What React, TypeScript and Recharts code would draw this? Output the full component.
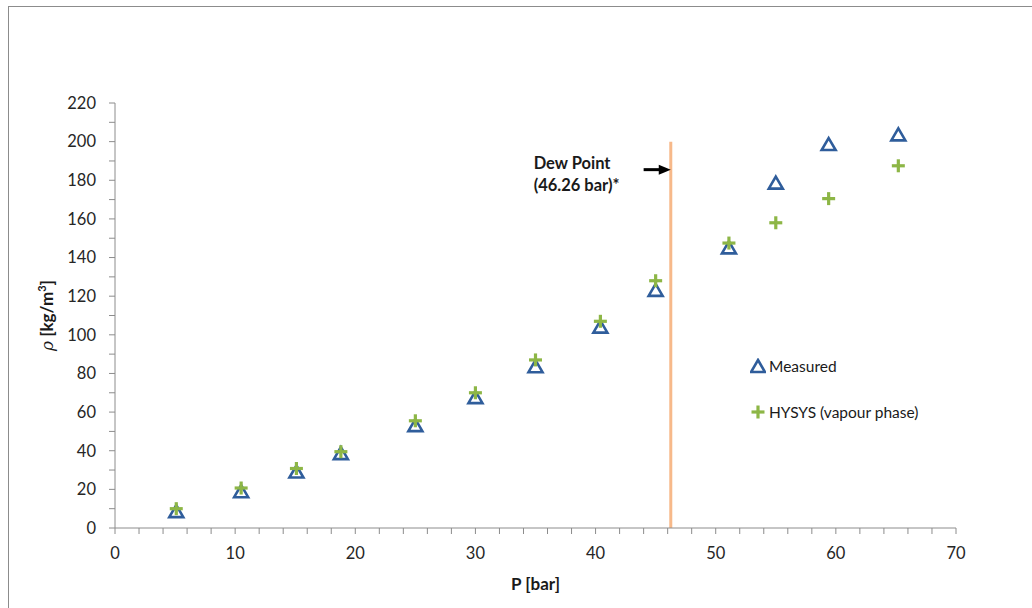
import { ScatterChart, Scatter, XAxis, YAxis, ReferenceLine, Legend } from 'recharts';

// Pressure [bar] of each sample, measured density and HYSYS vapour-phase density [kg/m3]
const pressure = [5.1, 10.5, 15.1, 18.8, 25.0, 30.0, 35.0, 40.4, 45.0, 51.1, 55.0, 59.4, 65.2];
const measured = [8.5, 18.8, 29.0, 38.5, 53.0, 67.5, 83.5, 104, 123, 145, 178.5, 198.5, 203.5];
const hysys = [10.0, 20.7, 30.8, 39.5, 55.5, 70.0, 87.0, 107, 128, 147.5, 158, 170.5, 187.5];

const dewPoint = 46.26;
const dewTop = 200;

const xTicks = Array.from({ length: 36 }, (_, i) => i * 2);
const yTicks = Array.from({ length: 23 }, (_, i) => i * 10);

const measuredData = pressure.map((p, i) => ({ p, rho: measured[i] }));
const hysysData = pressure.map((p, i) => ({ p, rho: hysys[i] }));

const BLUE = '#2f5d9b';
const GREEN = '#8db646';
const AXIS = '#8c8c8c';
const FONT = 'Lato, "Open Sans", sans-serif';

function Triangle({ cx, cy }: { cx: number; cy: number }) {
  return (
    <polygon
      points={`${cx},${cy - 6.5} ${cx + 7},${cy + 5.5} ${cx - 7},${cy + 5.5}`}
      fill="none"
      stroke={BLUE}
      strokeWidth={2.6}
      strokeLinejoin="miter"
    />
  );
}

function Plus({ cx, cy }: { cx: number; cy: number }) {
  return (
    <g stroke={GREEN} strokeWidth={3.2}>
      <line x1={cx - 6.5} y1={cy} x2={cx + 6.5} y2={cy} />
      <line x1={cx} y1={cy - 6.5} x2={cx} y2={cy + 6.5} />
    </g>
  );
}

// arrow pointing at the dew point line, with its caption to the left
function DewArrow(props: any) {
  const { x1, y1, x2 } = props;
  return (
    <g>
      <line x1={x1} y1={y1} x2={x2 - 10} y2={y1} stroke="#000" strokeWidth={3} />
      <polygon points={`${x2},${y1} ${x2 - 12},${y1 - 5} ${x2 - 12},${y1 + 5}`} fill="#000" />
      <text x={x1 - 110} y={y1 - 1} fontFamily={FONT} fontSize={16.5} fontWeight={700} fill="#1a1a1a">
        Dew Point
      </text>
      <text x={x1 - 110} y={y1 + 21} fontFamily={FONT} fontSize={16.5} fontWeight={700} fill="#1a1a1a">
        ({dewPoint} bar)*
      </text>
    </g>
  );
}

function YTitle(props: any) {
  const { viewBox } = props;
  const x = viewBox.x + 34;
  const y = viewBox.y + viewBox.height / 2;
  return (
    <text x={x} y={y} transform={`rotate(-90 ${x} ${y})`} textAnchor="middle" fontFamily={FONT} fontSize={17} fill="#1a1a1a">
      <tspan fontStyle="italic" fontFamily="'DejaVu Serif', serif">ρ</tspan>
      <tspan fontWeight={700}> [kg/m</tspan>
      <tspan fontWeight={700} fontSize={11} dy={-7}>3</tspan>
      <tspan fontWeight={700} dy={7}>]</tspan>
    </text>
  );
}

function LegendBox() {
  const row = { display: 'flex', alignItems: 'center', gap: 3, fontFamily: FONT, fontSize: 15.5, color: '#1a1a1a', height: 20 };
  return (
    <div>
      <div style={row}>
        <svg width={16} height={16}><Triangle cx={8} cy={8.5} /></svg>
        <span>Measured</span>
      </div>
      <div style={{ ...row, marginTop: 26 }}>
        <svg width={16} height={16}><Plus cx={8} cy={8} /></svg>
        <span>HYSYS (vapour phase)</span>
      </div>
    </div>
  );
}

export default function App() {
  return (
    <div style={{ position: 'fixed', inset: 0, overflow: 'hidden', background: '#fff' }}>
      <div style={{ position: 'absolute', left: 8, top: 6, width: 1040, height: 620, border: `1px solid ${AXIS}`, background: '#fff' }}>
        <ScatterChart width={1028} height={600} margin={{ top: 96, right: 81, bottom: 49, left: 10 }}>
          <XAxis
            type="number"
            dataKey="p"
            domain={[0, 70]}
            ticks={xTicks}
            interval={0}
            tickFormatter={(v: number) => (v % 10 === 0 ? String(v) : '')}
            stroke={AXIS}
            tickLine={{ stroke: AXIS }}
            tickSize={6}
            tickMargin={13}
            tick={{ fill: '#262626', fontSize: 16.5, fontFamily: FONT }}
            height={30}
            label={{ value: 'P [bar]', position: 'bottom', offset: 20, fill: '#1a1a1a', fontSize: 17, fontWeight: 700, fontFamily: FONT }}
          />
          <YAxis
            type="number"
            dataKey="rho"
            domain={[0, 220]}
            ticks={yTicks}
            interval={0}
            tickFormatter={(v: number) => (v % 20 === 0 ? String(v) : '')}
            stroke={AXIS}
            tickLine={{ stroke: AXIS }}
            tickSize={6}
            tickMargin={13}
            tick={{ fill: '#262626', fontSize: 16.5, fontFamily: FONT }}
            width={96}
            label={<YTitle />}
          />
          <ReferenceLine
            segment={[{ x: dewPoint, y: 0 }, { x: dewPoint, y: dewTop }]}
            stroke="#f7b98a"
            strokeWidth={3}
          />
          <ReferenceLine
            segment={[{ x: 44.0, y: 185.5 }, { x: dewPoint, y: 185.5 }]}
            shape={<DewArrow />}
          />
          <Scatter name="Measured" data={measuredData} shape={(p: any) => <Triangle cx={p.cx} cy={p.cy} />} isAnimationActive={false} />
          <Scatter name="HYSYS (vapour phase)" data={hysysData} shape={(p: any) => <Plus cx={p.cx} cy={p.cy} />} isAnimationActive={false} />
          <Legend
            layout="horizontal"
            verticalAlign="middle"
            align="center"
            content={<LegendBox />}
            wrapperStyle={{ position: 'absolute', left: 741, top: 349, width: 220 }}
          />
        </ScatterChart>
      </div>
    </div>
  );
}
